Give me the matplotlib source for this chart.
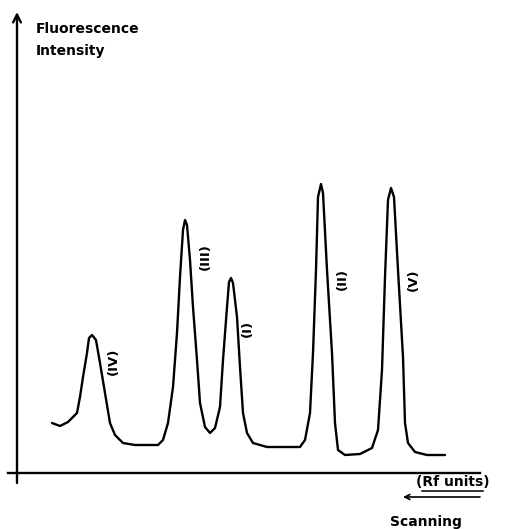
import matplotlib
matplotlib.use("Agg")
import matplotlib.pyplot as plt

# Densitometer trace (arbitrary units: Rf position along scan, fluorescence intensity)
rf = [35, 43, 51, 60, 63, 66, 70, 72, 75, 79, 83, 88, 93, 98, 106, 118, 141, 146,
      151, 156, 160, 163, 166, 168, 170, 173, 176, 180, 183, 188, 193, 198, 203, 206,
      210, 212, 214, 216, 220, 223, 226, 230, 236, 250, 273, 283, 288, 293, 296, 299,
      301, 304, 306, 310, 315, 318, 321, 328, 343, 355, 361, 365, 368, 371, 374, 377,
      381, 386, 388, 391, 398, 410, 428]
intensity = [50, 47, 51, 60, 76, 96, 120, 135, 138, 133, 110, 80, 50, 38, 30, 28, 28, 33,
             50, 86, 140, 196, 243, 253, 248, 213, 166, 113, 70, 46, 40, 45, 66, 113,
             166, 191, 195, 190, 156, 106, 60, 40, 30, 26, 26, 26, 33, 60, 120, 203,
             276, 289, 280, 203, 120, 50, 23, 18, 19, 25, 43, 103, 196, 273, 285, 276,
             203, 116, 50, 30, 21, 18, 18]

# Peak labels and where they sit
peak_labels = ["(IV)", "(III)", "(I)", "(II)", "(V)"]
label_rf = [96, 188, 230, 325, 396]
label_int = [112, 216, 145, 194, 193]

fig = plt.figure(figsize=(5.08, 5.29), dpi=100)
ax = fig.add_axes([0, 0, 1, 1])
ax.set_xlim(-17, 491)
ax.set_ylim(-56, 473)
ax.axis("off")

ink = "black"

# Trace
ax.plot(rf, intensity, color=ink, linewidth=1.7, solid_joinstyle="round",
        solid_capstyle="round")

# Axes drawn by hand (y with arrow head, x plain)
ax.annotate("", xy=(0, 461), xytext=(0, -10),
            arrowprops=dict(arrowstyle="->", color=ink, lw=1.7,
                            mutation_scale=14, shrinkA=0, shrinkB=0))
ax.plot([-9, 463], [0, 0], color=ink, linewidth=1.7)

font = dict(family="DejaVu Sans", weight="bold", size=10, color=ink)

for lab, x, y in zip(peak_labels, label_rf, label_int):
    ax.text(x, y, lab, rotation=90, ha="center", va="center",
            **{**font, "size": 9.5})

ax.text(19, 440, "Fluorescence", ha="left", va="baseline", **font)
ax.text(19, 418, "Intensity", ha="left", va="baseline", **font)

ax.text(399, -13, "(Rf units)", ha="left", va="baseline", **font)
ax.plot([405, 466], [-17.5, -17.5], color=ink, linewidth=1.1)
ax.annotate("", xy=(386, -24), xytext=(463, -24),
            arrowprops=dict(arrowstyle="->", color=ink, lw=1.2,
                            mutation_scale=9, shrinkA=0, shrinkB=0))
ax.text(373, -53, "Scanning", ha="left", va="baseline", **font)

plt.savefig("out.png", dpi=100)
